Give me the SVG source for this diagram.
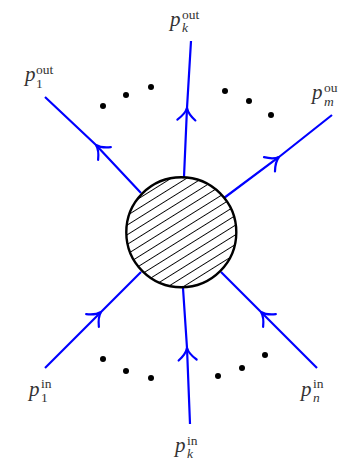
<svg xmlns="http://www.w3.org/2000/svg" width="338" height="462" viewBox="0 0 338 462">
<style>
.leg{fill:none;stroke:#0000ff;stroke-width:2.2;marker-mid:url(#arr)}
.lbl{font-family:"Liberation Serif","DejaVu Serif",serif;fill:#333}
.p{font-style:italic;font-size:21px}
.sup{font-size:13.5px}
.sub{font-size:13.5px}
.it{font-style:italic}
.dot{fill:#000}
</style>
<defs>
<marker id="arr" markerUnits="userSpaceOnUse" markerWidth="30" markerHeight="30" refX="0" refY="0" viewBox="-15 -15 30 30" orient="auto" overflow="visible">
<path d="M-12,-9 Q-6,-1.5 0,0 Q-6,1.5 -12,9" fill="none" stroke="#0000ff" stroke-width="2.2" stroke-linecap="round"/>
</marker>
<pattern id="hatch" patternUnits="userSpaceOnUse" width="8.2" height="8.2" patternTransform="rotate(-32)">
<rect width="8.2" height="8.2" fill="#fff"/>
<line x1="0" y1="4.1" x2="8.2" y2="4.1" stroke="#000" stroke-width="0.9"/>
</pattern>
</defs>
<g id="connectors">
<polyline class="leg" points="141,193 96,145 45,97"/>
<polyline class="leg" points="184,177 187,108 191,41"/>
<polyline class="leg" points="224,198 279,157 332,115"/>
<polyline class="leg" points="45,368 101,312 141,272"/>
<polyline class="leg" points="190,424 187,348 183,288"/>
<polyline class="leg" points="317,368 261,312 221,272"/>
</g>
<g id="blob">
<circle cx="181.3" cy="232.3" r="55" fill="url(#hatch)" stroke="#000" stroke-width="2.4"/>
</g>
<g id="dots">
<circle class="dot" cx="103" cy="106" r="3"/>
<circle class="dot" cx="126" cy="95" r="3"/>
<circle class="dot" cx="151" cy="87" r="3"/>
<circle class="dot" cx="225" cy="91" r="3"/>
<circle class="dot" cx="249" cy="101" r="3"/>
<circle class="dot" cx="271" cy="115" r="3"/>
<circle class="dot" cx="103" cy="359" r="3"/>
<circle class="dot" cx="126" cy="371" r="3"/>
<circle class="dot" cx="151" cy="378" r="3"/>
<circle class="dot" cx="218" cy="376" r="3"/>
<circle class="dot" cx="242" cy="368" r="3"/>
<circle class="dot" cx="265" cy="355" r="3"/>
</g>
<g id="label-p1out" class="lbl">
<text x="25" y="81" class="p">p</text>
<text x="36" y="74" class="sup">out</text>
<text x="36" y="88" class="sub">1</text>
</g>
<g id="label-pkout" class="lbl">
<text x="170" y="26" class="p">p</text>
<text x="182" y="19" class="sup">out</text>
<text x="182" y="32" class="sub it">k</text>
</g>
<g id="label-pmout" class="lbl">
<text x="312" y="99" class="p">p</text>
<text x="324" y="92" class="sup">out</text>
<text x="324" y="106" class="sub it">m</text>
</g>
<g id="label-p1in" class="lbl">
<text x="29" y="396" class="p">p</text>
<text x="41" y="388" class="sup">in</text>
<text x="41" y="402" class="sub">1</text>
</g>
<g id="label-pkin" class="lbl">
<text x="175" y="452" class="p">p</text>
<text x="187" y="445" class="sup">in</text>
<text x="187" y="458" class="sub it">k</text>
</g>
<g id="label-pnin" class="lbl">
<text x="301" y="396" class="p">p</text>
<text x="313" y="388" class="sup">in</text>
<text x="313" y="402" class="sub it">n</text>
</g>
</svg>
